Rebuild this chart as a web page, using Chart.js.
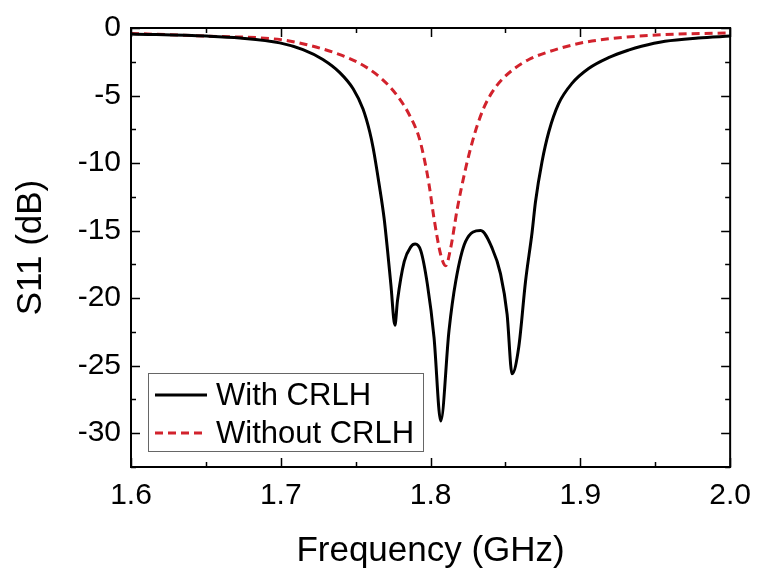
<!DOCTYPE html>
<html>
<head>
<meta charset="utf-8">
<script src="https://cdn.jsdelivr.net/npm/chart.js@4.4.1/dist/chart.umd.min.js"></script>
<style>
  html, body { margin: 0; padding: 0; background: #fff; }
  #wrap { width: 762px; height: 572px; }
</style>
</head>
<body>
<div id="wrap"><canvas id="c" width="762" height="572"></canvas></div>
<script>
// Frequency (GHz) and S11 (dB)
const freqWith = [1.600, 1.6506, 1.6727, 1.6993, 1.7148, 1.7281, 1.7394, 1.7483, 1.7549, 1.7594, 1.7617, 1.7657, 1.7690, 1.7713, 1.7735, 1.7762,
  1.7779, 1.7824, 1.7868, 1.7897, 1.7935, 1.7979, 1.8023, 1.8068,
  1.8123, 1.8168, 1.8234, 1.8334, 1.8411, 1.8467, 1.8511, 1.8544,
  1.8589, 1.8634, 1.8678, 1.8700, 1.8744, 1.8789, 1.8855, 1.8944, 1.9055, 1.9188, 1.9321, 1.9408, 1.9565, 1.9786, 2.000];
const s11With = [-0.44, -0.6, -0.74, -1.1, -1.6, -2.33, -3.3, -4.5, -6.0, -7.7, -8.9, -11.6, -14.1, -16.5, -19.0, -22.0,
  -20.2, -17.3, -16.2, -16.0, -16.5, -19.0, -22.9, -29.1,
  -22.4, -18.75, -15.8, -15.0, -16.3, -18.2, -21.2, -25.6,
  -23.6, -18.75, -15.1, -12.9, -9.9, -7.7, -5.6, -4.1, -3.0, -2.2, -1.64, -1.35, -0.98, -0.74, -0.6];

const freqWithout = [1.600, 1.6506, 1.700, 1.716, 1.7324, 1.7413, 1.7524, 1.7635, 1.7724, 1.7790, 1.7857, 1.7923, 1.7960, 1.7990, 1.8023, 1.8068, 1.8101,
  1.8134, 1.8178, 1.8234, 1.8278, 1.8312, 1.8356, 1.8411, 1.8478, 1.8567, 1.8656, 1.8767, 1.8988, 1.9188, 1.9567, 2.000];
const s11Without = [-0.4, -0.6, -0.86, -1.2, -1.7, -2.05, -2.6, -3.4, -4.3, -5.2, -6.4, -8.1, -9.8, -11.6, -14.1, -16.8, -17.6,
  -16.3, -13.4, -10.4, -8.46, -7.2, -5.9, -4.75, -3.8, -2.94, -2.33, -1.84, -1.15, -0.8, -0.49, -0.37];

const xTicks = [1.6, 1.7, 1.8, 1.9, 2.0];
const yTicks = [0, -5, -10, -15, -20, -25, -30];
const seriesLabels = ['With CRLH', 'Without CRLH'];

const FONT = '"Liberation Sans", Arial, sans-serif';

const pts = (xs, ys) => xs.map((x, i) => ({ x: x, y: ys[i] }));

const framePlugin = {
  id: 'frame',
  afterDraw(chart) {
    const { ctx, chartArea: a, scales } = chart;
    const xs = scales.x, ys = scales.y;
    ctx.save();
    ctx.strokeStyle = '#000';
    ctx.lineWidth = 2;
    ctx.strokeRect(a.left, a.top, a.right - a.left, a.bottom - a.top);
    ctx.lineWidth = 1.5;
    ctx.beginPath();
    for (let v = 1.6; v <= 2.0001; v += 0.05) {
      const px = Math.round(xs.getPixelForValue(v)) + 0.5;
      const major = Math.abs(v * 10 - Math.round(v * 10)) < 1e-6;
      const len = major ? 9 : 5;
      ctx.moveTo(px, a.bottom); ctx.lineTo(px, a.bottom - len);
      ctx.moveTo(px, a.top); ctx.lineTo(px, a.top + len);
    }
    for (let v = 0; v >= -32.5; v -= 2.5) {
      const py = Math.round(ys.getPixelForValue(v)) + 0.5;
      const major = Math.abs(v % 5) < 1e-6;
      const len = major ? 9 : 5;
      ctx.moveTo(a.left, py); ctx.lineTo(a.left + len, py);
      ctx.moveTo(a.right, py); ctx.lineTo(a.right - len, py);
    }
    ctx.stroke();

    // legend box
    const bx = 148, by = 373, bw = 275, bh = 78;
    ctx.fillStyle = '#fff';
    ctx.fillRect(bx, by, bw, bh);
    ctx.strokeStyle = '#666';
    ctx.lineWidth = 1;
    ctx.strokeRect(bx + 0.5, by + 0.5, bw, bh);
    const ds = chart.data.datasets;
    const rows = [395, 433];
    ds.forEach((d, i) => {
      ctx.beginPath();
      ctx.strokeStyle = d.borderColor;
      ctx.lineWidth = d.borderWidth;
      ctx.setLineDash(d.borderDash || []);
      ctx.moveTo(155, rows[i]); ctx.lineTo(207, rows[i]);
      ctx.stroke();
      ctx.setLineDash([]);
      ctx.fillStyle = '#000';
      ctx.font = '31px ' + FONT;
      ctx.textBaseline = 'middle';
      ctx.textAlign = 'left';
      ctx.fillText(d.label, 216, rows[i] + 1);
    });
    ctx.restore();
  }
};

new Chart(document.getElementById('c'), {
  type: 'line',
  data: {
    datasets: [
      { label: seriesLabels[0], data: pts(freqWith, s11With), borderColor: '#000000', borderWidth: 3,
        pointRadius: 0, fill: false, cubicInterpolationMode: 'monotone' },
      { label: seriesLabels[1], data: pts(freqWithout, s11Without), borderColor: '#d2222c', borderWidth: 3,
        borderDash: [8, 5], pointRadius: 0, fill: false, cubicInterpolationMode: 'monotone' }
    ]
  },
  options: {
    responsive: false,
    animation: false,
    devicePixelRatio: 1,
    layout: { padding: { top: 25, right: 30, left: 0, bottom: 0 } },
    plugins: { legend: { display: false }, tooltip: { enabled: false } },
    scales: {
      x: {
        type: 'linear', min: 1.6, max: 2.0,
        afterBuildTicks: (s) => { s.ticks = xTicks.map(v => ({ value: v })); },
        afterFit: (s) => { s.height = 105; },
        grid: { display: false, drawTicks: false },
        border: { display: false },
        ticks: { color: '#000', font: { family: FONT, size: 30 }, padding: 11,
          callback: (v) => Number(v).toFixed(1), maxRotation: 0 },
        title: { display: true, text: 'Frequency (GHz)', color: '#000',
          font: { family: FONT, size: 35 }, padding: { top: 2, bottom: 0 } }
      },
      y: {
        type: 'linear', min: -32.5, max: 0,
        afterBuildTicks: (s) => { s.ticks = yTicks.map(v => ({ value: v })); },
        afterFit: (s) => { s.width = 131; },
        grid: { display: false, drawTicks: false },
        border: { display: false },
        ticks: { color: '#000', font: { family: FONT, size: 30 }, padding: 10 },
        title: { display: true, text: 'S11 (dB)', color: '#000',
          font: { family: FONT, size: 35 }, padding: { top: 10, bottom: 0 } }
      }
    }
  },
  plugins: [framePlugin]
});
</script>
</body>
</html>
